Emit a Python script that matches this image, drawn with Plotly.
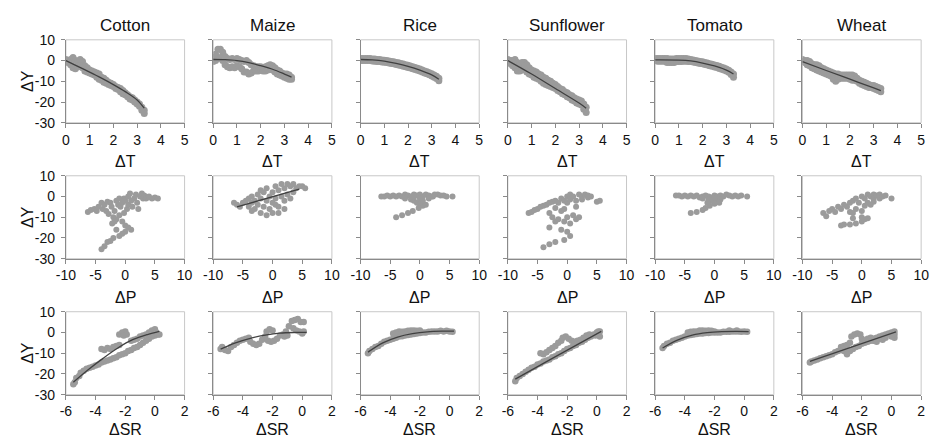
import plotly.graph_objects as go
from plotly.subplots import make_subplots

# ---------------- data ----------------
crops = ["Cotton", "Maize", "Rice", "Sunflower", "Tomato", "Wheat"]
x_titles = ["ΔT", "ΔP", "ΔSR"]
y_title = "ΔY"

x_tick_vals = [[0, 1, 2, 3, 4, 5], [-10, -5, 0, 5, 10], [-6, -4, -2, 0, 2]]
x_tick_text = [["0", "1", "2", "3", "4", "5"], ["-10", "-5", "0", "5", "10"], ["-6", "-4", "-2", "0", "2"]]
y_tick_vals = [-30, -20, -10, 0, 10]
y_tick_text = ["-30", "-20", "-10", "0", "10"]

dT = [0.0, 0.1, 0.2, 0.3, 0.4, 0.5, 0.6, 0.7, 0.8, 0.9, 1.0, 1.1, 1.2, 1.3, 1.4, 1.5, 1.6,
      1.7, 1.8, 1.9, 2.0, 2.1, 2.2, 2.3, 2.4, 2.5, 2.6, 2.7, 2.8, 2.9, 3.0, 3.1, 3.2, 3.3]

# Row 1: ΔY vs ΔT (upper and lower edge of the point band)
cotton_T_hi = [0.5, 0, 0.5, 1.5, 0, -1, 0.5, -0.5, -2.5, -3.5, -4.5, -5, -5.5, -6, -6.5, -8, -8.5,
               -9.5, -10.5, -11, -11.5, -12.5, -13, -13.5, -14.5, -15.5, -16.5, -17.5, -18, -19, -20, -21, -22.5, -24]
cotton_T_lo = [-0.5, -1, -2, -3.5, -4, -3, -2.5, -3.5, -5, -5.5, -6, -6.5, -7, -8, -9, -9.5, -10.5,
               -11, -11.5, -12, -12.5, -13.5, -14, -15, -16, -16.5, -17.5, -18.5, -19, -20, -21, -22, -24, -25.5]
maize_T_hi = [1.5, 3, 5.5, 5.5, 4, 2, 1, 0.5, 1, 0.5, 1, 0.5, 0, -0.5, 0, -1, -2,
              -2.5, -3, -3, -3, -3.5, -3, -2.5, -2, -2.5, -3.5, -4.5, -5, -6, -6.5, -6.5, -7, -8]
maize_T_lo = [-0.5, 0, 1, 1.5, 0, -2, -3, -3.5, -3, -3.5, -2.5, -3, -4, -5.5, -5.5, -6.5, -6,
              -5, -5, -5, -4.5, -5, -5, -4.5, -4, -4.5, -5.5, -6.5, -7, -7.5, -8, -8.5, -9, -9]
rice_T_hi = [1, 1, 1, 1, 1, 0.8, 0.7, 0.5, 0.5, 0.3, 0.2, 0, -0.2, -0.4, -0.6, -0.9, -1.1,
             -1.4, -1.7, -2, -2.3, -2.6, -3, -3.3, -3.7, -4.1, -4.5, -5, -5.4, -5.9, -6.4, -7, -7.6, -8.5]
rice_T_lo = [0, 0, 0, 0, 0, -0.2, -0.3, -0.5, -0.5, -0.7, -0.8, -1, -1.2, -1.4, -1.6, -1.9, -2.1,
             -2.4, -2.7, -3, -3.3, -3.6, -4, -4.3, -4.7, -5.1, -5.5, -6, -6.4, -6.9, -7.4, -8, -8.6, -9.8]
sunflower_T_hi = [0.5, 0, 0, 0.5, -1, -2, -1, -1, -2, -3.5, -4.5, -5, -5.5, -6.5, -7, -8, -8.5,
                  -9.5, -10, -11, -11.5, -12.5, -13.5, -14, -15, -15.5, -16.5, -17, -18, -18.5, -19, -19.5, -21, -22.5]
sunflower_T_lo = [-0.5, -1.5, -2.5, -3.5, -5, -5, -4.5, -4, -5.5, -6.5, -7, -8, -8.5, -9, -10, -11, -11.5,
                  -12, -12.5, -13, -13.5, -14.5, -15, -16, -16.5, -17.5, -18, -19, -19.5, -20.5, -21, -21.5, -23.5, -25]
tomato_T_hi = [1, 1, 1, 1, 1, 1, 0.8, 0.8, 0.8, 1, 1, 1, 1, 1, 0.8, 0.5, 0.3,
               0, -0.2, -0.4, -0.6, -0.9, -1.2, -1.5, -1.8, -2.1, -2.4, -2.8, -3.2, -3.6, -4.1, -4.7, -5.5, -6.5]
tomato_T_lo = [0, -0.3, -0.3, -0.3, -0.3, -1, -1, -1, -1, -0.5, -0.5, -0.5, -0.3, -0.3, -0.4, -0.5, -0.7,
               -1, -1.2, -1.4, -1.6, -1.9, -2.2, -2.5, -2.8, -3.1, -3.4, -3.8, -4.2, -4.6, -5.1, -5.7, -6.7, -8]
wheat_T_hi = [0.5, 0, 0, -0.5, -1.5, -2, -2, -2.5, -3.5, -4, -4.5, -5, -5.5, -6, -6.5, -6.5, -7,
              -7, -7, -7, -7, -7, -7.5, -8.5, -9.5, -10, -10.5, -11, -11.5, -12, -12, -12.5, -13, -13.5]
wheat_T_lo = [-0.5, -1, -2, -2.5, -3.5, -4, -4.5, -5, -5.5, -6, -6.5, -7, -7.5, -9, -10, -9, -8.5,
              -8.5, -8.5, -8.5, -9, -9.5, -9.5, -10, -11, -11.5, -12, -12.5, -13, -13, -13.5, -14, -14.5, -15]

# Row 2: ΔY vs ΔP (x, y)
cotton_P = [(-6.3, -7.5), (-5.8, -6.5), (-5.2, -6), (-4.8, -7), (-4.5, -5), (-4, -3), (-3.8, -6), (-3.5, -4),
            (-3.2, -7), (-3, -2.5), (-2.8, -8.5), (-2.5, -3), (-2.3, -5), (-2, -10), (-1.8, -7), (-1.5, -11),
            (-1.5, -2), (-1.2, -4), (-1, -1), (-0.8, -5), (-0.5, -12), (-0.5, -3), (-0.2, -1), (0, -2),
            (0, -14), (0.3, -6), (0.5, 0), (0.5, -4), (0.8, 1.5), (1, -2), (1, -16), (1.2, -5), (1.5, -1),
            (1.8, 1), (2, -3), (2.2, -6), (2.5, 0), (2.8, 1.5), (3, -1), (3.2, 0.5), (3.5, -1), (3.8, -0.5),
            (4, 0), (4.5, -1), (5, -0.5), (5.5, -1), (0.5, -15), (0, -17), (-0.5, -18), (-1, -19),
            (-1.5, -16), (-2, -20), (-2.5, -21.5), (-3, -22), (-3.5, -24), (-4, -25.5), (-1, -9),
            (-0.2, -8), (-1.8, -12), (-2.2, -13)]
maize_P = [(-6.5, -3), (-6, -4), (-5.5, -5), (-5, -3), (-4.5, -2), (-4, -1), (-4, -5), (-3.5, -3),
           (-3.5, 0), (-3, -6), (-3, -2), (-2.5, 1), (-2.5, -4), (-2, -8), (-2, -1), (-1.5, 2), (-1.5, -5),
           (-1, -9), (-1, -2), (-1, 4), (-0.5, 0), (-0.5, -6), (0, 2), (0, -3), (0, -8), (0.5, 5),
           (0.5, -1), (1, 3), (1, -5), (1, -8), (1.5, 6), (1.5, 0), (2, 4), (2, -2), (2.5, 6), (2.5, 1),
           (3, 5), (3, -1), (3.5, 6), (3.5, 2), (4, 4), (4.5, 5), (5, 5), (5.5, 4), (2, -6), (-2, 3),
           (-3.5, -7), (0.5, -4)]
rice_P = [(-6.5, 0), (-6, 0), (-5.5, 0.5), (-5, 0), (-4.5, 0.5), (-4, 0), (-3.5, 0.5), (-3, 0),
          (-2.5, 1), (-2, 0.5), (-1.5, 0), (-1, 1), (-0.5, 0.5), (0, 1), (0.5, 0), (1, 1), (1.5, 0.5),
          (2, 0), (2.5, 1), (3, 1), (3.5, 0.5), (4, 0.5), (4.5, 0), (5.5, 0), (-2.5, -1), (-1.5, -1.5),
          (-1, -2), (-0.5, -3), (0, -1), (0, -3.5), (0.5, -4.5), (1, -4), (0.5, -2), (-0.2, -5.5),
          (-1.2, -7), (-2, -8), (-3, -9), (-4, -10), (1.5, -1), (-1, 0), (2.2, 0)]
sunflower_P = [(-6.5, -8), (-6, -7.5), (-5.5, -6.5), (-5, -6), (-4.5, -5), (-4, -4.5), (-3.5, -4),
               (-3, -3), (-2.5, -2.5), (-2, -2), (-1.5, -3), (-1, -1), (-0.5, -2), (0, 0), (0, -3),
               (0.5, 1), (0.5, -1.5), (1, 0), (1.5, -2), (1.5, -5), (2, 1), (2.5, 0), (2.5, -1.5), (3, 1),
               (3.5, -0.5), (3.5, 0.5), (4, 0), (5, -2.5), (5.5, -2), (-3, -8), (-2.5, -10), (-2, -12),
               (-1.5, -11), (-1, -7), (-0.5, -12), (0, -10), (0.5, -13), (1, -9), (1.5, -11), (2, -10),
               (-3, -15), (-1, -16), (0, -17), (0.5, -19), (-0.5, -21), (-2, -22), (-3, -23), (-4, -24.5),
               (-2, -5.5), (-0.5, -6)]
tomato_P = [(-6.5, 0.5), (-6, 0.5), (-5.5, 0), (-5, 0.5), (-4.5, 0), (-4, 0.5), (-3.5, 0), (-3, 0.5),
            (-2.5, -0.5), (-2, 0), (-1.5, 0.5), (-1, 0), (-0.5, -0.5), (0, 0.5), (0.5, 0), (1, 0.5),
            (1.5, 0), (2, 1), (2.5, 0.5), (3, 0), (3.5, 0.5), (4, 0), (4.5, 0.5), (5.5, 0), (-2, -1),
            (-1, -1.5), (-0.5, -2), (0, -1), (0.5, -2.5), (1, -1.5), (0, -3.5), (-0.8, -4.5),
            (-1.5, -5.5), (-2, -6.5), (-3, -7.5), (-4, -8), (-1.2, -3), (0.8, -3)]
wheat_P = [(-6.5, -8), (-6, -9.5), (-5.5, -7), (-5, -6), (-4.5, -7.5), (-4, -5), (-3.5, -6), (-3, -4),
           (-2.5, -5), (-2, -3), (-2, -7.5), (-1.5, -2), (-1.5, -8), (-1, -1), (-1, -6), (-0.5, -3),
           (0, 0), (0, -7), (0.5, -1), (0.5, -4.5), (1, 1), (1, -3), (1.5, 0), (2, -1), (2, 1),
           (2.5, 0.5), (3, 1), (3, -1), (3.5, 0), (4, 0.5), (5, -1), (-3.5, -14), (-3, -13.5),
           (-2, -13.5), (-1, -13), (0, -12), (0.5, -11), (1, -10.5), (0, -10), (-1.5, -10.5),
           (1.5, -4), (2, -2.5)]

# Row 3: ΔY vs ΔSR (x, y)
cotton_SR = [(-5.5, -25), (-5.4, -24), (-5.3, -22), (-5.1, -21), (-5.0, -19.5), (-4.8, -18.5),
             (-4.6, -17.5), (-4.4, -17), (-4.2, -16.5), (-4.0, -16), (-3.8, -15.5), (-3.6, -14.5),
             (-3.4, -14), (-3.2, -13.5), (-3.0, -13), (-2.8, -12.5), (-2.6, -12), (-2.4, -11),
             (-2.2, -10.5), (-2.0, -10), (-1.8, -9), (-1.6, -8.5), (-1.4, -7.5), (-1.2, -7), (-1.0, -6),
             (-0.8, -5), (-0.6, -4), (-0.4, -3), (-0.2, -2), (0.0, -1.5), (0.2, -1), (-3.6, -8),
             (-3.4, -8.5), (-3.2, -7.5), (-3.0, -8), (-2.8, -7), (-2.6, -6.5), (-2.4, -6), (-2.4, -1),
             (-2.2, 0), (-2.0, 0.5), (-1.9, -1), (-2.1, -1.5), (-1.6, -4), (-1.4, -3.5), (-1.2, -3),
             (-1.0, -2), (-0.8, -1.5), (-0.6, -1), (-0.4, 0), (-0.2, 1), (0.0, 1.5), (0.1, 0), (0.3, -1)]
maize_SR = [(-5.5, -8), (-5.4, -7), (-5.2, -8.5), (-5.0, -9), (-4.8, -7), (-4.6, -6), (-4.4, -5),
            (-4.2, -4), (-4.0, -3.5), (-3.8, -3), (-3.6, -2.5), (-3.5, -4.5), (-3.3, -5.5), (-3.1, -6),
            (-2.9, -5.5), (-2.7, -3.5), (-2.5, -2), (-2.4, 0.5), (-2.2, 1.5), (-2.0, 1), (-2.3, -4),
            (-2.1, -4.5), (-1.9, -4), (-1.7, -3), (-1.5, -1.5), (-1.3, -1), (-1.1, 0.5), (-0.9, 3),
            (-0.7, 5.5), (-0.5, 6), (-0.3, 6.5), (-0.1, 5), (0.1, 5), (-0.6, 2), (-0.4, 1), (-0.2, 0.5),
            (0.0, -0.5), (0.1, 0.5), (-1.0, -1.5), (-1.2, -2)]
rice_SR = [(-5.5, -10), (-5.4, -9), (-5.2, -8), (-5.0, -7), (-4.8, -6.5), (-4.6, -5.5), (-4.4, -4.5),
           (-4.2, -4), (-4.0, -3.5), (-3.8, -3), (-3.6, -2.5), (-3.4, -2), (-3.2, -1.8), (-3.0, -1.5),
           (-2.8, -1.2), (-2.6, -1), (-2.4, -0.8), (-2.2, -0.5), (-2.0, -0.3), (-1.8, 0), (-1.6, 0),
           (-1.4, 0.3), (-1.2, 0.5), (-1.0, 0.5), (-0.8, 0.5), (-0.6, 0.8), (-0.4, 0.5), (-0.2, 0.8),
           (0.0, 0.5), (0.2, 0.3), (-3.8, -0.5), (-3.6, 0), (-3.4, 0.5), (-3.2, 0.3), (-3.0, 0.5),
           (-2.8, 0.8), (-2.6, 1), (-2.4, 1), (-2.2, 0.8), (-2.0, 1)]
sunflower_SR = [(-5.5, -23.5), (-5.4, -22), (-5.2, -21), (-5.0, -20), (-4.8, -19), (-4.6, -18),
                (-4.4, -17), (-4.2, -16.5), (-4.0, -15.5), (-3.8, -15), (-3.6, -14), (-3.4, -13.5),
                (-3.2, -13), (-3.0, -12), (-2.8, -11.5), (-2.6, -10.5), (-2.4, -10), (-2.2, -9),
                (-2.0, -8), (-1.8, -7.5), (-1.6, -6.5), (-1.4, -6), (-1.2, -5), (-1.0, -4.5), (-0.8, -3.5),
                (-0.6, -2.5), (-0.4, -2), (-0.2, -1), (0.0, 0), (0.2, -2), (0.2, 0.5), (-3.8, -10),
                (-3.6, -10.5), (-3.4, -9.5), (-3.2, -8.5), (-3.0, -7.5), (-2.8, -6.5), (-2.6, -5),
                (-2.4, -4), (-2.3, -2.5), (-2.1, -2), (-1.9, -3), (-1.7, -4), (-1.5, -4.5), (-1.3, -4),
                (-1.1, -3.5), (-0.9, -2.5), (-0.7, -1.5), (-0.5, -1), (0.1, 0.5), (-0.1, -1.5)]
tomato_SR = [(-5.5, -7.5), (-5.4, -6.5), (-5.2, -5.5), (-5.0, -5), (-4.8, -4), (-4.6, -3.5),
             (-4.4, -3), (-4.2, -2.5), (-4.0, -2), (-3.8, -1.5), (-3.6, -1.2), (-3.4, -1), (-3.2, -0.8),
             (-3.0, -0.5), (-2.8, -0.5), (-2.6, -0.3), (-2.4, -0.3), (-2.2, 0), (-2.0, 0), (-1.8, 0),
             (-1.6, 0), (-1.4, 0.3), (-1.2, 0.3), (-1.0, 0.3), (-0.8, 0.5), (-0.6, 0.5), (-0.4, 0.5),
             (-0.2, 0.3), (0.0, 0.5), (0.2, 0.3), (-3.8, 0), (-3.6, 0.3), (-3.4, 0.5), (-3.2, 0.5),
             (-3.0, 1), (-2.8, 1), (-2.6, 0.8), (-2.4, 1), (-2.2, 0.8), (-2.0, 0.5), (-1.0, 1), (-0.5, 1)]
wheat_SR = [(-5.5, -14.5), (-5.4, -14), (-5.2, -13.5), (-5.0, -13), (-4.8, -12.5), (-4.6, -12),
            (-4.4, -11.5), (-4.2, -11), (-4.0, -10.5), (-3.8, -9.5), (-3.6, -9), (-3.4, -8.5), (-3.2, -9),
            (-3.0, -10.5), (-2.8, -9), (-2.6, -8), (-2.4, -7), (-2.2, -6.5), (-2.0, -5.5), (-1.8, -5),
            (-1.6, -4.5), (-1.4, -4), (-1.2, -3), (-1.0, -2.5), (-0.8, -2), (-0.6, -1.5), (-0.4, -1),
            (-0.2, -0.5), (0.0, 0), (0.2, -1), (0.2, -2.5), (-3.4, -7), (-3.2, -6.5), (-3.0, -6),
            (-2.8, -5), (-2.7, -2), (-2.5, -1), (-2.3, -0.5), (-2.1, -1), (-2.0, -3), (-1.8, -4),
            (-1.6, -3), (-1.4, -2.5), (-1.2, -4), (-1.0, -4.5), (-0.8, -3), (-0.6, -3.5), (-0.4, -2.5),
            (0.0, -2), (0.2, 0.5)]

# fitted trend lines (x, y)
cotton_fit_T = [(0, 0), (0.5, -2.8), (1, -5.6), (1.5, -8.5), (2, -11.6), (2.5, -15), (3, -19), (3.3, -23)]
maize_fit_T = [(0, 0.5), (0.5, 0.4), (1, 0), (1.5, -1), (2, -2.5), (2.5, -4.2), (3, -6.5), (3.3, -8)]
rice_fit_T = [(0, 0.5), (0.5, 0.3), (1, -0.3), (1.5, -1.4), (2, -2.8), (2.5, -4.6), (3, -6.9), (3.3, -9)]
sunflower_fit_T = [(0, 0), (1, -6.5), (2, -13.5), (3, -20.5), (3.3, -23)]
tomato_fit_T = [(0, 0.3), (1, 0.2), (1.5, -0.2), (2, -1.2), (2.5, -2.6), (3, -4.6), (3.3, -6.5)]
wheat_fit_T = [(0, -0.5), (1, -4.8), (2, -9), (3, -13.2), (3.3, -14.5)]
maize_fit_P = [(-6, -5), (4.5, 3.5)]
cotton_fit_SR = [(-5.5, -24), (-4.5, -18), (-3.5, -12.5), (-2.5, -7.5), (-1.5, -3.5), (-0.5, -1), (0.3, 0.5)]
maize_fit_SR = [(-5.5, -8), (-4.5, -5), (-3.5, -2.8), (-2.5, -1.3), (-1.5, -0.3), (-0.5, 0), (0.3, 0)]
rice_fit_SR = [(-5.5, -9.5), (-4.5, -5), (-3.5, -2.2), (-2.5, -0.6), (-1.5, 0.3), (-0.5, 0.6), (0.3, 0.6)]
sunflower_fit_SR = [(-5.5, -22.5), (-3, -12.5), (0.3, 0.5)]
tomato_fit_SR = [(-5.5, -7.5), (-4.5, -3.7), (-3.5, -1.3), (-2.5, -0.1), (-1.5, 0.4), (-0.5, 0.5), (0.3, 0.4)]
wheat_fit_SR = [(-5.5, -14), (0.3, 0.3)]

x_ranges = [[0, 5], [-10, 10], [-6, 2]]
y_range = [-30, 10]

# ---------------- figure ----------------
W, H = 937, 447
PT_COLOR = "#9b9b9b"
LINE_COLOR = "#404040"
AXIS_COLOR = "#8a8a8a"
BOX_COLOR = "#c8c8c8"
FONT = "Liberation Sans, Arial, sans-serif"
MARKER_SIZES = [7, 6, 6.5]

fig = make_subplots(rows=3, cols=6)


def unzip(pairs):
    return [p[0] for p in pairs], [p[1] for p in pairs]


def add_points(x, y, r, c):
    fig.add_trace(go.Scatter(x=x, y=y, mode="markers",
                             marker=dict(size=MARKER_SIZES[r - 1], color=PT_COLOR, line=dict(width=0)),
                             showlegend=False, hoverinfo="skip"), row=r, col=c)


def add_line(pairs, r, c):
    x, y = unzip(pairs)
    fig.add_trace(go.Scatter(x=x, y=y, mode="lines", line=dict(color=LINE_COLOR, width=1.3, shape="spline"),
                             showlegend=False, hoverinfo="skip"), row=r, col=c)


T_bands = [(cotton_T_hi, cotton_T_lo), (maize_T_hi, maize_T_lo), (rice_T_hi, rice_T_lo),
           (sunflower_T_hi, sunflower_T_lo), (tomato_T_hi, tomato_T_lo), (wheat_T_hi, wheat_T_lo)]
P_pts = [cotton_P, maize_P, rice_P, sunflower_P, tomato_P, wheat_P]
SR_pts = [cotton_SR, maize_SR, rice_SR, sunflower_SR, tomato_SR, wheat_SR]
T_fits = [cotton_fit_T, maize_fit_T, rice_fit_T, sunflower_fit_T, tomato_fit_T, wheat_fit_T]
SR_fits = [cotton_fit_SR, maize_fit_SR, rice_fit_SR, sunflower_fit_SR, tomato_fit_SR, wheat_fit_SR]

for c in range(6):
    hi, lo = T_bands[c]
    add_points(dT + dT, hi + lo, 1, c + 1)
    add_line(T_fits[c], 1, c + 1)
    px, py = unzip(P_pts[c])
    add_points(px, py, 2, c + 1)
    if c == 1:
        add_line(maize_fit_P, 2, c + 1)
    sx, sy = unzip(SR_pts[c])
    add_points(sx, sy, 3, c + 1)
    add_line(SR_fits[c], 3, c + 1)

# geometry (pixels)
col_left = [57 + 150.2 * i for i in range(6)]
row_top = [33, 174, 315]
pw, ph = 121, 86
title_px = [159, 300, 437]

annotations = []
shapes = []
for r in range(3):
    for c in range(6):
        n = r * 6 + c + 1
        xa = "xaxis" if n == 1 else f"xaxis{n}"
        ya = "yaxis" if n == 1 else f"yaxis{n}"
        x0 = col_left[c] / W
        x1 = (col_left[c] + pw) / W
        y1 = 1 - row_top[r] / H
        y0 = 1 - (row_top[r] + ph) / H
        fig.layout[xa].update(domain=[x0, x1], range=x_ranges[r],
                              tickmode="array", tickvals=x_tick_vals[r], ticktext=x_tick_text[r],
                              showgrid=False, zeroline=False, showline=True, linecolor=AXIS_COLOR,
                              linewidth=1, ticks="outside", ticklen=4, tickcolor=AXIS_COLOR,
                              tickfont=dict(family=FONT, size=14, color="#111"),
                              ticklabelstandoff=0, fixedrange=True)
        fig.layout[ya].update(domain=[y0, y1], range=y_range,
                              tickmode="array", tickvals=y_tick_vals, ticktext=y_tick_text,
                              showgrid=False, zeroline=False, showline=True, linecolor=AXIS_COLOR,
                              linewidth=1, ticks="outside", ticklen=4, tickcolor=AXIS_COLOR,
                              showticklabels=(c == 0), ticklabelstandoff=3,
                              tickfont=dict(family=FONT, size=14, color="#111"), fixedrange=True)
        sfx = "" if n == 1 else str(n)
        shapes.append(dict(type="rect", xref=f"x{sfx} domain", yref=f"y{sfx} domain",
                           x0=0, x1=1, y0=0, y1=1, line=dict(color=BOX_COLOR, width=1), layer="below"))
        annotations.append(dict(text=x_titles[r], x=(col_left[c] + pw / 2) / W, y=1 - title_px[r] / H,
                                xref="paper", yref="paper", showarrow=False, xanchor="center",
                                yanchor="middle", font=dict(family=FONT, size=16, color="#111")))
    annotations.append(dict(text=y_title, x=18 / W, y=1 - (row_top[r] + ph / 2) / H,
                            xref="paper", yref="paper", showarrow=False, textangle=-90,
                            xanchor="center", yanchor="middle",
                            font=dict(family=FONT, size=16, color="#111")))

for c in range(6):
    annotations.append(dict(text=crops[c], x=(col_left[c] + pw / 2) / W, y=1 - 18 / H,
                            xref="paper", yref="paper", showarrow=False, xanchor="center",
                            yanchor="middle", font=dict(family=FONT, size=17, color="#111")))

fig.update_layout(width=W, height=H, margin=dict(l=0, r=0, t=0, b=0),
                  paper_bgcolor="white", plot_bgcolor="white",
                  annotations=annotations, shapes=shapes, showlegend=False)

fig.write_html("out.html")
